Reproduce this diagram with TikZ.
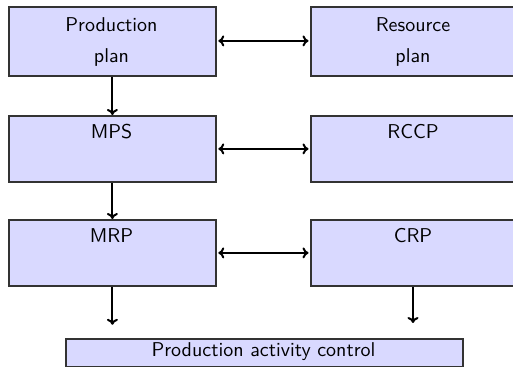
\documentclass[tikz,border=0pt]{standalone}
\usetikzlibrary{calc,arrows.meta}
\begin{document}
\begin{tikzpicture}[x=0.5pt,y=-0.5pt,
  box/.style={draw=black!80,fill=blue!15,line width=0.9pt,inner sep=0pt,anchor=north west},
  lbox/.style={box,minimum width=103.5pt,minimum height=33pt},
  rbox/.style={box,minimum width=110pt,minimum height=33pt},
  txt/.style={font=\sffamily,inner sep=0pt,anchor=base},
  link/.style={line width=1pt,-{To[length=3pt,width=5.5pt]}},
  dlink/.style={line width=1pt,{To[length=3pt,width=5.5pt]}-{To[length=3pt,width=5.5pt]}}]
\useasboundingbox (0,0) rectangle (513,367);
% planning levels: left column
\node[lbox,minimum height=34.5pt] (pp) at (8,6) {};
\node[lbox] (mps) at (8,115) {};
\node[lbox] (mrp) at (8,219) {};
% capacity levels: right column (running off the right edge)
\node[rbox,minimum height=34.5pt] (rp) at (310,6) {};
\node[rbox] (rccp) at (310,115) {};
\node[rbox] (crp) at (310,219) {};
% execution
\node[box,minimum width=198.5pt,minimum height=14pt] (pac) at (65,338) {};
% texts
\node[txt] (pp1) at (111.5,32) {Production};
\node[txt] (pp2) at (111.5,63) {plan};
\node[txt] (rp1) at (413,32) {Resource};
\node[txt] (rp2) at (413,63) {plan};
\node[txt] (mpst) at (111.5,139) {MPS};
\node[txt] (rccpt) at (413,139) {RCCP};
\node[txt] (mrpt) at (111.5,243) {MRP};
\node[txt] (crpt) at (413,243) {CRP};
\node[txt] (pact) at (263.5,357) {Production activity control};
% connectors
\draw[dlink] ($(pp.east)+(1.5,-0.5)$) -- ($(rp.west)+(-1.5,-0.5)$);
\draw[dlink] ($(mps.east)+(1.5,0)$) -- ($(rccp.west)+(-1.5,0)$);
\draw[dlink] ($(mrp.east)+(1.5,0)$) -- ($(crp.west)+(-1.5,0)$);
\draw[link] (pp.south) -- (mps.north);
\draw[link] (mps.south) -- (mrp.north);
\coordinate (e1) at ($(mrp.south)+(0,38)$);
\coordinate (e2) at (413,323);
\draw[link] (mrp.south) -- (e1);
\draw[link] (e2 |- crp.south) -- (e2);
\end{tikzpicture}
\end{document}
